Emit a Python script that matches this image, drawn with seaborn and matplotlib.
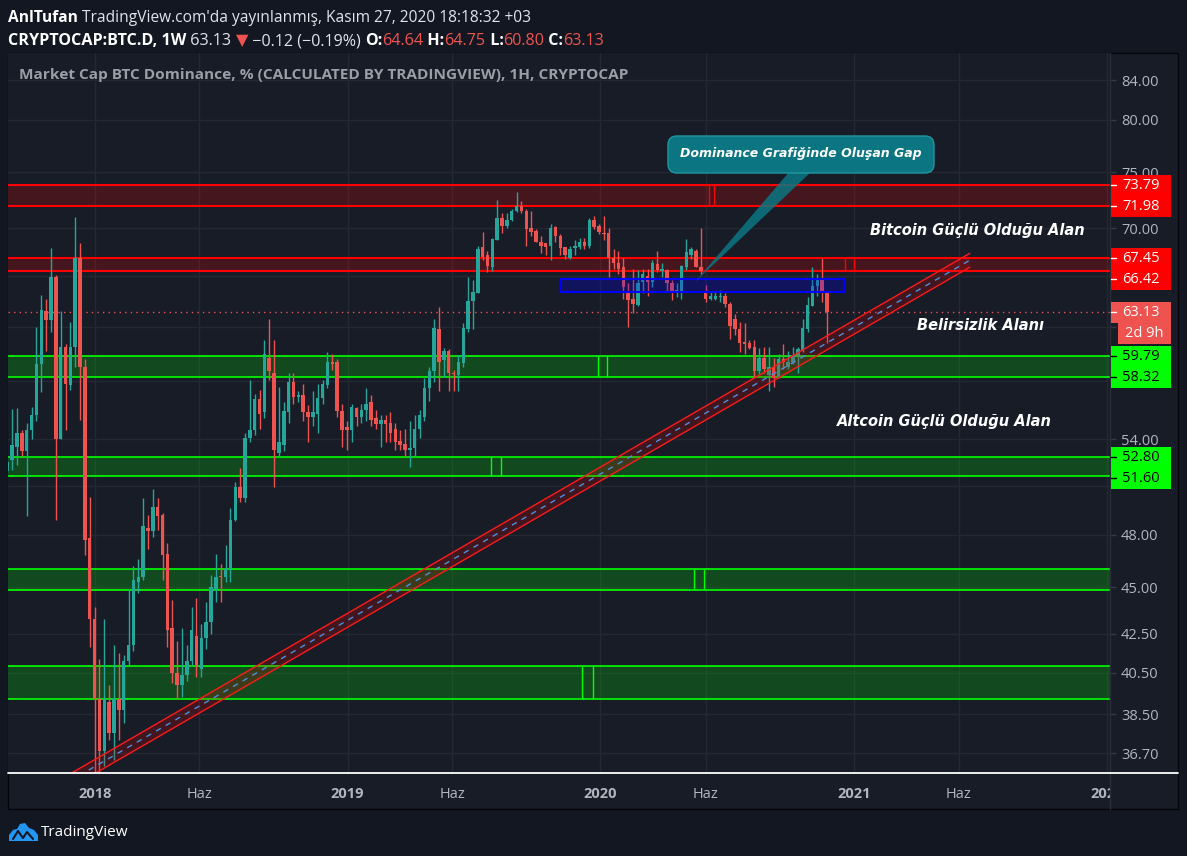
import matplotlib
matplotlib.use("Agg")
import matplotlib.pyplot as plt
import matplotlib.dates as mdates
from matplotlib.patches import Rectangle, FancyBboxPatch, Polygon
from matplotlib.transforms import IdentityTransform, Bbox
from matplotlib.lines import Line2D
from matplotlib.ticker import NullLocator
import numpy as np
import pandas as pd
import seaborn as sns

# weekly candles of CRYPTOCAP:BTC.D, first candle = week of 2017-08-28
first_week = "2017-08-28"

opens = [
    51.9, 52.6, 53.5, 54.4, 53.2, 54.6, 55.6, 59.2, 63.2, 62.5,
    65.9, 54.0, 60.5, 57.7, 60.5, 67.45, 59.0, 47.8, 43.3, 39.2,
    36.8, 39.1, 37.6, 39.2, 38.7, 41.1, 41.9, 45.3, 45.6, 48.4,
    48.2, 49.7, 49.2, 46.9, 42.8, 40.5, 39.9, 40.4, 41.1, 42.4,
    40.7, 42.3, 43.1, 44.9, 45.65, 45.55, 46.0, 48.9, 50.9, 50.2,
    54.1, 54.6, 56.7, 55.8, 59.7, 58.6, 53.1, 53.6, 55.8, 57.9,
    56.9, 57.0, 55.85, 55.5, 55.7, 56.8, 57.7, 59.4, 59.4, 55.9,
    54.8, 54.6, 56.1, 55.5, 56.0, 56.5, 55.4, 55.0, 55.3, 55.1,
    54.7, 53.9, 53.7, 53.3, 53.4, 54.7, 55.5, 57.5, 58.7, 61.8,
    59.5, 60.2, 58.6, 58.4, 59.3, 61.8, 64.0, 64.6, 68.4, 67.7,
    66.7, 69.0, 70.9, 70.2, 70.7, 71.5, 71.9, 71.5, 70.0, 69.8,
    68.8, 68.7, 68.5, 70.1, 69.3, 68.4, 67.5, 68.3, 68.4, 68.85,
    68.5, 70.7, 70.2, 69.6, 69.6, 67.45, 67.1, 66.7, 64.8, 64.2,
    63.7, 65.5, 66.0, 65.5, 67.0, 66.4, 66.5, 65.4, 64.6, 64.6,
    66.7, 67.7, 68.1, 66.7, 64.8, 64.2, 64.2, 64.35, 64.4, 63.8,
    62.6, 61.8, 60.85, 60.8, 60.5, 58.7, 59.7, 58.4, 59.0, 58.3,
    59.6, 59.0, 59.4, 59.9, 60.2, 61.8, 63.6, 65.2, 65.7, 64.64,
]
highs = [
    52.6, 56.05, 56.1, 54.6, 55.1, 56.2, 62.0, 64.5, 64.2, 68.3,
    66.1, 63.2, 60.7, 62.4, 71.0, 68.7, 59.6, 50.3, 43.9, 41.2,
    43.3, 39.9, 41.9, 41.5, 41.4, 44.9, 46.2, 46.6, 50.2, 49.2,
    50.8, 50.2, 49.3, 47.5, 44.3, 42.1, 42.8, 41.9, 43.9, 44.4,
    43.0, 44.2, 45.7, 46.9, 46.3, 47.4, 49.6, 51.2, 52.1, 54.4,
    58.1, 57.1, 57.4, 61.0, 62.6, 61.0, 57.6, 56.5, 58.6, 58.6,
    57.3, 57.8, 56.3, 57.3, 57.8, 58.1, 60.1, 60.0, 59.6, 56.4,
    55.2, 56.4, 56.2, 56.4, 57.5, 57.0, 56.0, 55.6, 55.6, 55.8,
    55.1, 54.6, 54.7, 55.2, 55.6, 56.0, 58.2, 59.0, 62.6, 63.5,
    60.4, 60.3, 58.8, 59.9, 62.3, 65.9, 65.7, 68.5, 69.7, 68.1,
    69.2, 72.5, 71.3, 71.3, 71.7, 73.2, 72.4, 71.7, 71.5, 69.9,
    69.3, 68.7, 70.4, 70.2, 69.5, 68.4, 68.5, 69.0, 69.2, 69.2,
    70.9, 71.1, 70.4, 71.1, 70.0, 68.2, 68.1, 67.5, 65.4, 66.6,
    66.5, 66.6, 66.6, 67.3, 68.1, 67.1, 66.6, 65.7, 65.4, 66.9,
    69.1, 68.4, 68.2, 70.0, 65.3, 64.8, 64.8, 64.9, 64.6, 63.9,
    63.0, 62.4, 62.3, 61.0, 61.0, 60.4, 60.5, 60.5, 59.7, 60.0,
    60.7, 60.2, 60.5, 60.5, 62.6, 64.3, 66.7, 66.2, 67.45, 64.75,
]
lows = [
    51.8, 52.0, 52.3, 52.9, 49.1, 54.0, 55.2, 57.2, 60.2, 61.6,
    48.9, 54.0, 54.6, 57.4, 59.0, 55.3, 46.8, 41.8, 34.5, 33.5,
    36.1, 37.3, 36.4, 37.3, 38.1, 40.9, 41.6, 44.7, 45.4, 47.2,
    47.9, 48.3, 45.4, 41.8, 40.0, 39.2, 39.3, 40.1, 40.9, 40.3,
    40.3, 41.7, 42.5, 44.2, 44.2, 45.3, 45.3, 48.8, 50.0, 50.0,
    53.8, 54.3, 54.7, 55.4, 58.1, 50.9, 52.9, 53.2, 55.1, 56.4,
    56.5, 55.2, 53.8, 54.9, 54.4, 56.4, 57.5, 58.8, 55.5, 53.5,
    53.3, 53.8, 54.9, 55.1, 55.2, 54.9, 54.7, 53.5, 53.8, 53.8,
    53.3, 53.3, 52.9, 52.2, 52.9, 54.1, 55.2, 56.6, 57.9, 57.3,
    58.3, 57.3, 57.3, 57.3, 59.0, 61.6, 61.8, 64.6, 67.3, 66.3,
    66.4, 69.0, 69.6, 70.0, 70.6, 71.4, 71.3, 68.5, 69.3, 68.8,
    67.9, 67.7, 67.3, 68.8, 67.7, 67.4, 67.4, 67.7, 68.2, 68.2,
    68.3, 69.9, 69.5, 69.0, 65.9, 66.6, 66.2, 64.2, 62.0, 63.1,
    63.6, 64.6, 64.4, 65.1, 66.3, 65.9, 64.7, 64.1, 64.3, 64.2,
    66.5, 67.4, 66.7, 66.2, 63.9, 64.1, 64.1, 63.9, 63.5, 61.1,
    61.4, 60.1, 60.0, 60.3, 58.3, 58.5, 58.6, 57.3, 57.6, 58.2,
    58.9, 58.9, 59.2, 58.6, 60.1, 61.6, 63.6, 64.4, 63.9, 60.8,
]
closes = [
    52.5, 53.6, 54.4, 53.2, 54.6, 55.6, 59.2, 63.3, 62.5, 65.9,
    54.0, 60.5, 57.8, 60.5, 67.45, 59.0, 47.7, 43.3, 39.2, 36.8,
    39.2, 37.6, 39.2, 38.7, 41.1, 41.9, 45.4, 45.6, 48.5, 48.2,
    49.7, 49.1, 46.8, 42.7, 40.5, 39.9, 40.4, 41.1, 42.7, 40.8,
    42.3, 43.1, 45.0, 45.6, 45.55, 46.0, 48.9, 50.9, 50.2, 54.1,
    54.6, 56.7, 55.7, 60.0, 58.7, 53.3, 53.8, 55.9, 57.9, 56.9,
    57.0, 55.8, 55.5, 55.85, 56.8, 57.8, 59.4, 59.25, 55.9, 54.6,
    54.6, 56.2, 55.5, 56.0, 56.4, 55.3, 55.0, 55.3, 55.0, 54.4,
    53.8, 53.6, 53.3, 53.4, 54.7, 55.6, 57.5, 58.7, 61.9, 59.4,
    60.2, 58.6, 58.5, 59.4, 61.9, 64.0, 64.7, 68.2, 67.6, 66.8,
    69.1, 70.9, 70.2, 70.7, 71.5, 71.9, 71.5, 69.9, 69.7, 68.8,
    68.5, 68.4, 70.0, 69.3, 68.3, 67.7, 68.2, 68.5, 68.8, 68.5,
    70.7, 70.1, 69.7, 69.5, 67.45, 67.1, 66.6, 65.1, 64.1, 63.8,
    65.4, 66.2, 65.5, 67.1, 66.5, 66.6, 65.4, 64.6, 64.9, 66.8,
    68.0, 68.2, 66.7, 66.4, 64.2, 64.4, 64.4, 64.4, 63.8, 62.1,
    61.8, 60.8, 60.7, 60.4, 58.7, 59.7, 58.9, 59.0, 58.2, 59.6,
    59.4, 59.4, 59.9, 60.3, 61.9, 63.7, 65.2, 65.7, 64.64, 63.13,
]

# drawn zones (low, high) and the little marks TradingView leaves inside them
red_zones = [(71.98, 73.79), (66.42, 67.45)]
red_marks = [("2020-06-05", "2020-06-13"), ("2020-12-19", "2021-01-01")]
green_zones = [(58.32, 59.79), (51.60, 52.80), (44.88, 46.00), (39.22, 40.85)]
green_marks = [("2019-12-28", "2020-01-10"), ("2019-07-27", "2019-08-10"),
               ("2020-05-15", "2020-05-29"), ("2019-12-06", "2019-12-21")]
gap_box = ("2019-11-03", "2020-12-17", 64.70, 65.80)

# rising channel: start/end dates and values of its two edges
channel_dates = ["2017-10-29", "2021-06-17"]
channel_upper = [35.27, 67.87]
channel_lower = [34.67, 66.72]

y_ticks = [36.7, 38.5, 40.5, 42.5, 45.0, 48.0, 51.0, 54.0, 58.0, 62.0, 66.0, 70.0, 75.0, 80.0, 84.0]
covered_ticks = [51.0, 58.0, 62.0, 66.0]   # sit under the price tags
x_tick_dates = ["2018-01-01", "2018-06-01", "2019-01-01", "2019-06-01", "2020-01-01",
                "2020-06-01", "2021-01-01", "2021-06-01", "2022-01-01"]
x_tick_labels = ["2018", "Haz", "2019", "Haz", "2020", "Haz", "2021", "Haz", "2022"]

BG = "#131722"
PANEL = "#181c27"
GRID = "#242833"
UP = "#26a69a"
DOWN = "#ef5350"
AXIS_TXT = "#b2b5be"
TEAL = "#0b7682"

sns.set_theme(style="dark", rc={"axes.facecolor": PANEL, "figure.facecolor": BG})
plt.rcParams["font.family"] = ["Open Sans", "DejaVu Sans"]

W, H = 1187, 856
fig = plt.figure(figsize=(W / 100, H / 100), dpi=100)
pix = IdentityTransform()


def up(y):
    return H - y


fig.add_artist(Rectangle((8, up(809)), 1170, 756, transform=pix, fc=PANEL,
                         ec="#05060a", lw=1, zorder=-5))

ax = fig.add_axes([8 / W, 1 - 773 / H, 1102 / W, 720 / H])
ax.set_facecolor(PANEL)
ax.set_yscale("log")
ax.set_ylim(35.81, 86.84)
ax.set_xlim(mdates.date2num(pd.Timestamp("2017-08-29")),
            mdates.date2num(pd.Timestamp("2022-01-05 10:00")))

# candles
df = pd.DataFrame({"open": opens, "high": highs, "low": lows, "close": closes})
df["date"] = pd.date_range(first_week, periods=len(df), freq="7D")
df["x"] = mdates.date2num(df["date"])
colors = np.where(df["close"] >= df["open"], UP, DOWN)
ax.vlines(df["x"], df["low"], df["high"], colors=colors, lw=1, zorder=3)
ax.bar(df["x"], (df["close"] - df["open"]).abs(), bottom=df[["open", "close"]].min(axis=1),
       width=5.0, color=colors, linewidth=0, zorder=3)

# zones
for (lo, hi), (m0, m1) in zip(red_zones, red_marks):
    ax.axhspan(lo, hi, fc=(1, 0, 0, 0.2), ec="none", zorder=1)
    ax.axhline(lo, color="#ff0000", lw=1.5, zorder=2)
    ax.axhline(hi, color="#ff0000", lw=1.5, zorder=2)
    ax.vlines(mdates.date2num(pd.to_datetime([m0, m1])), lo, hi, color="#ff0000", lw=1, zorder=2)
for (lo, hi), (m0, m1) in zip(green_zones, green_marks):
    ax.axhspan(lo, hi, fc=(0, 1, 0, 0.2), ec="none", zorder=1)
    ax.axhline(lo, color="#00ff00", lw=1.2, zorder=2)
    ax.axhline(hi, color="#00ff00", lw=1.2, zorder=2)
    ax.vlines(mdates.date2num(pd.to_datetime([m0, m1])), lo, hi, color="#00ff00", lw=1, zorder=2)

g0, g1 = mdates.date2num(pd.to_datetime([gap_box[0], gap_box[1]]))
ax.add_patch(Rectangle((g0, gap_box[2]), g1 - g0, gap_box[3] - gap_box[2],
                       fc=(0, 0, 1, 0.25), ec="#0000ff", lw=1.5, zorder=4))

# channel
cx = mdates.date2num(pd.to_datetime(channel_dates))
ax.add_patch(Polygon([(cx[0], channel_upper[0]), (cx[1], channel_upper[1]),
                      (cx[1], channel_lower[1]), (cx[0], channel_lower[0])],
                     closed=True, fc=(1, 0, 0, 0.18), ec="none", zorder=4))
ax.plot(cx, channel_upper, color="#ff1a1a", lw=1, zorder=4)
ax.plot(cx, channel_lower, color="#ff1a1a", lw=1, zorder=4)
mid = np.sqrt(np.array(channel_upper) * np.array(channel_lower))
ax.plot(cx, mid, color="#4a90e2", lw=1, ls=(0, (4, 4)), zorder=4)

# last price line
last_close = closes[-1]
ax.axhline(last_close, color=DOWN, lw=1, ls=(0, (1, 3)), zorder=2)

# axes styling
for s in ax.spines.values():
    s.set_visible(False)
ax.grid(True, which="major", color=GRID, lw=1)
ax.set_axisbelow(True)
ax.yaxis.tick_right()
ax.set_yticks(y_ticks)
ax.set_yticklabels(["" if t in covered_ticks else f"{t:.2f}" for t in y_ticks])
ax.yaxis.set_minor_locator(NullLocator())
ax.tick_params(axis="y", left=False, labelleft=False, right=True, labelright=True,
               length=4, width=1, color="#363a45", pad=4, labelsize=10.5, labelcolor=AXIS_TXT)
ax.set_xticks(mdates.date2num(pd.to_datetime(x_tick_dates)))
ax.set_xticklabels(x_tick_labels)
ax.tick_params(axis="x", bottom=False, length=0, pad=10, labelsize=10.5, labelcolor=AXIS_TXT)
clip = Bbox([[8, 0], [1110, H]])
for lbl in ax.get_xticklabels():
    if lbl.get_text() != "Haz":
        lbl.set_fontweight("bold")
    lbl.set_clip_box(clip)
    lbl.set_clip_on(True)

fig.add_artist(Line2D([1110, 1110], [up(53), up(809)], transform=pix, color="#2a2e39", lw=1))
fig.add_artist(Line2D([8, 1178], [up(773), up(773)], transform=pix, color="white", lw=1.3))


# price tags on the right scale
def ypix(v):
    return H - ax.transData.transform((ax.get_xlim()[0], v))[1]


tags = [(v, "#ff0000", "white") for z in red_zones for v in z]
tags += [(v, "#00ff00", "black") for z in green_zones[:2] for v in z]
tags.append((last_close, DOWN, "white"))
tags.sort(key=lambda t: ypix(t[0]))
prev = -100
for v, fc, tc in tags:
    y = max(ypix(v), prev + 21)
    fig.add_artist(Rectangle((1111, up(y + 10.5)), 60, 21, transform=pix, fc=fc, ec="none", zorder=5))
    fig.add_artist(Line2D([1111, 1116], [up(y), up(y)], transform=pix, color=tc, lw=1, zorder=6))
    fig.text(1141 / W, 1 - y / H, f"{v:.2f}", ha="center", va="center", color=tc,
             fontsize=10.5, zorder=6)
    prev = y
    if v == last_close:
        y += 21
        fig.add_artist(Rectangle((1118, up(y + 10.5)), 53, 21, transform=pix, fc=DOWN, ec="none", zorder=5))
        fig.text(1144 / W, 1 - y / H, "2d 9h", ha="center", va="center", color="white",
                 fontsize=10.5, zorder=6)
        prev = y

# header lines
renderer = fig.canvas.get_renderer()


def put_runs(x, y, parts, size):
    for text, color, weight in parts:
        t = fig.text(x / W, 1 - y / H, text, color=color, fontsize=size,
                     fontweight=weight, va="baseline", ha="left")
        x += t.get_window_extent(renderer).width


put_runs(8, 22, [("AnlTufan", "white", "bold"),
                 (" TradingView.com'da yayınlanmış, Kasım 27, 2020 18:18:32 +03", "#e0e3eb", "normal")],
         11.2)
put_runs(8, 45, [("CRYPTOCAP:BTC.D, 1W", "white", "bold"),
                 (" 63.13 ", "#e0e3eb", "normal"), ("▼", DOWN, "normal"),
                 (" −0.12 (−0.19%) ", "#e0e3eb", "normal"),
                 ("O:", "white", "bold"), ("64.64", DOWN, "normal"),
                 (" H:", "white", "bold"), ("64.75", DOWN, "normal"),
                 (" L:", "white", "bold"), ("60.80", DOWN, "normal"),
                 (" C:", "white", "bold"), ("63.13", DOWN, "normal")],
         11.6)

fig.text(19 / W, 1 - 75 / H, "Market Cap BTC Dominance, % (CALCULATED BY TRADINGVIEW), 1H, CRYPTOCAP",
         color="#9b9ea6", fontsize=11.1, fontweight="bold", va="center", ha="left")

# callout
fig.add_artist(Polygon([(790, up(171)), (812, up(171)), (695, up(282))], closed=True,
                       transform=pix, fc=TEAL, ec="none", alpha=0.85, zorder=6))
fig.add_artist(FancyBboxPatch((668, up(173)), 266, 37, boxstyle="round,pad=0,rounding_size=9",
                              transform=pix, fc=TEAL, ec="#2196a2", lw=1, zorder=6))
fig.text(801 / W, 1 - 154 / H, "Dominance Grafiğinde Oluşan Gap", ha="center", va="center",
         color="white", fontsize=9, fontweight="bold", fontstyle="italic",
         family=["DejaVu Sans"], zorder=7)

# zone notes
notes = [("Bitcoin Güçlü Olduğu Alan", 977, 231), ("Belirsizlik Alanı", 980, 325),
         ("Altcoin Güçlü Olduğu Alan", 944, 421)]
for text, x, y in notes:
    fig.text(x / W, 1 - y / H, text, ha="center", va="center", color="white",
             fontsize=10.5, fontweight="bold", fontstyle="italic", family=["DejaVu Sans"], zorder=7)

# logo
fig.add_artist(Polygon([(9, up(841)), (9, up(835)), (13, up(830)), (17, up(829)), (20, up(824)),
                        (25, up(823)), (29, up(828)), (34, up(830)), (38, up(835)), (38, up(841))],
                       closed=True, transform=pix, fc="#2196f3", ec="none"))
fig.add_artist(Line2D([13, 18, 23, 27, 33], [up(839), up(831), up(838), up(832), up(839)],
                      transform=pix, color=BG, lw=1.5))
fig.text(41 / W, 1 - 832 / H, "TradingView", color="white", fontsize=11, va="center", ha="left")

fig.savefig("out.png", dpi=100, facecolor=BG)
